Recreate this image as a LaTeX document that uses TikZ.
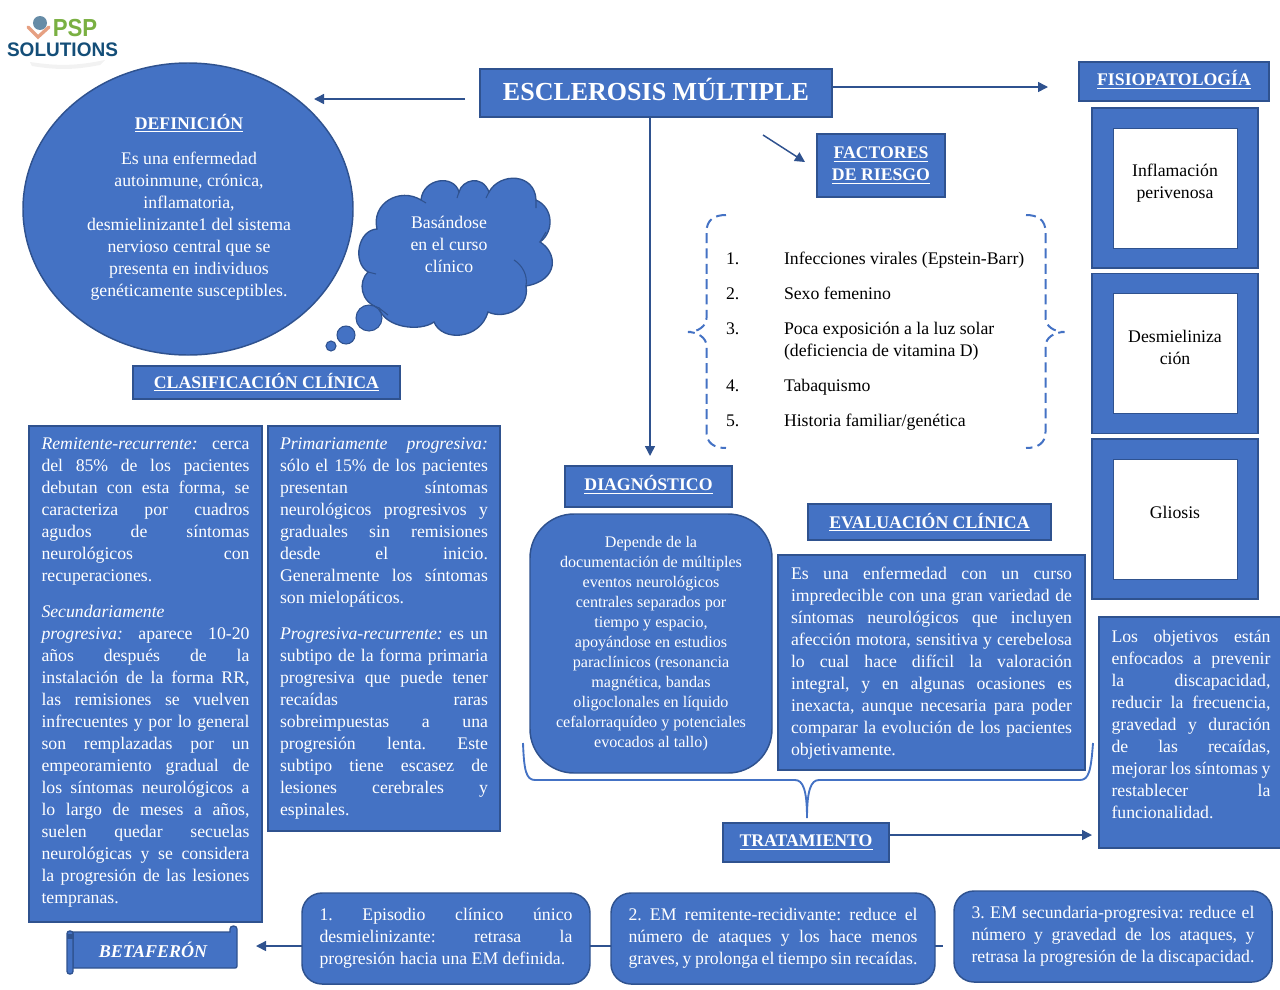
\documentclass[tikz,border=0pt]{standalone}
\usepackage{fontspec}
\usepackage{graphicx}
\usepackage{xcolor}
\usepackage{tikz}
\usetikzlibrary{arrows.meta, shapes.geometric, positioning, calc}
\setmainfont{Liberation Serif}
\newfontfamily\logofont{Liberation Sans}
\definecolor{cajaazul}{RGB}{68,114,196}
\definecolor{bordeazul}{RGB}{47,82,143}
\definecolor{logoverde}{RGB}{122,176,66}
\definecolor{logoazul}{RGB}{20,78,120}
\definecolor{logomano}{RGB}{230,160,130}
\newdimen\px
\px=0.75pt
\newcommand{\corte}{\linebreak}
\tolerance=9999
\hbadness=10000
\hfuzz=3pt
\hyphenpenalty=10000
\exhyphenpenalty=10000
\frenchspacing

\begin{document}
\begin{tikzpicture}[
        x=0.75pt, y=-0.75pt,
        base/.style={inner sep=0pt, outer sep=0pt, text=white, font=\fontsize{13.3}{16.5}\selectfont},
        caja/.style={base, rectangle, fill=cajaazul, draw=bordeazul, line width=1.1pt, align=justify},
        titulo/.style={caja, align=center, font=\fontsize{13.3}{16.5}\selectfont\bfseries},
        redonda/.style={caja, rounded corners=15pt},
        marco/.style={caja, minimum width=166\px, minimum height=160\px},
        celda/.style={base, rectangle, fill=white, draw=bordeazul, line width=0.6pt, text=black, align=center, text width=112\px, minimum width=124\px, minimum height=120\px},
        lista/.style={base, text=black, anchor=west, text height=12pt, text depth=3pt},
        flecha/.style={-{Triangle[length=7.5pt,width=7.5pt]}, line width=1.1pt, draw=bordeazul},
        linea/.style={line width=1.4pt, draw=cajaazul},
        llave/.style={draw=cajaazul, line width=1.5pt, dash pattern=on 7.5pt off 4pt}
    ]
        \useasboundingbox (0,0) rectangle (1280,989);

        % Logo
        \fill[gray!10] (30,62) to[bend right=10] (105,60) -- (100,65) to[bend left=10] (32,66) -- cycle;
        \draw[logomano, line width=2.5pt, line cap=round] (28,27) -- (38,37) -- (49,27);
        \node[circle, fill=logoazul!65!white, minimum size=14\px, inner sep=0pt] (globo) at (40,23) {};
        \node[base, text=logoverde, font=\logofont\fontsize{18.5}{19}\selectfont\bfseries] (psp) at (75,28) {\scalebox{0.9}[1]{PSP}};
        \node[base, text=logoazul, font=\logofont\fontsize{14.7}{15}\selectfont\bfseries] (solutions) at (62.5,49.5) {\scalebox{0.97}[1]{SOLUTIONS}};

        % Titulo y definicion
        \node[caja, minimum width=352\px, minimum height=48\px, font=\fontsize{19.5}{24}\selectfont\bfseries] (title) at (656,93) {ESCLEROSIS MÚLTIPLE\rule[-6pt]{0pt}{6pt}};
        \node[ellipse, fill=cajaazul, draw=bordeazul, line width=1.1pt, inner sep=0pt, minimum width=330\px, minimum height=292\px] (defi) at (188,209) {};
        \node[base, align=center] (defitexto) at (189,207.5) {\textbf{\underline{DEFINICIÓN}}\\[10pt]
            Es una enfermedad\\autoinmune, crónica,\\inflamatoria,\\desmielinizante1 del sistema\\nervioso central que se\\presenta en individuos\\genéticamente susceptibles.};

        % Nube
        \draw[fill=cajaazul, draw=bordeazul, line width=1pt] (377,229)
            .. controls (371,203) and (400,187) .. (421,200)
            .. controls (423,178) and (454,174) .. (459,192)
            .. controls (462,180) and (482,174) .. (489,192)
            .. controls (500,172) and (535,173) .. (536,200)
            .. controls (554,208) and (554,232) .. (540,242)
            .. controls (557,252) and (560,280) .. (526,286)
            .. controls (530,308) and (505,320) .. (488,312)
            .. controls (480,340) and (442,342) .. (434,322)
            .. controls (420,332) and (385,328) .. (379,308)
            .. controls (360,302) and (358,282) .. (368,272)
            .. controls (352,262) and (358,230) .. (377,229) -- cycle;
        \draw[bordeazul, line width=0.8pt] (421,200) -- (426,203) (459,192) -- (457,198) (489,192) -- (486,198)
            (536,200) -- (536,208) (540,242) -- (546,232) (526,286) .. controls (528,275) and (522,265) .. (514,260)
            (368,272) -- (376,274) (379,308) -- (388,315);
        \node[circle, fill=cajaazul, draw=bordeazul, line width=0.8pt, minimum size=26\px, inner sep=0pt] (burbujaA) at (369,318) {};
        \node[circle, fill=cajaazul, draw=bordeazul, line width=0.8pt, minimum size=18\px, inner sep=0pt] (burbujaB) at (346,335) {};
        \node[circle, fill=cajaazul, draw=bordeazul, line width=0.8pt, minimum size=10\px, inner sep=0pt] (burbujaC) at (331,346) {};
        \node[base, align=center] (nubetexto) at (449,244.5) {Basándose\\en el curso\\clínico};

        % Clasificacion
        \node[titulo, minimum width=267\px, minimum height=33\px] (clasif) at (266.5,382.5) {\underline{CLASIFICACIÓN CLÍNICA}};
        \node[caja, text width=208\px, minimum width=233\px, minimum height=496\px] (remite) at (145.5,674) {%
            \textit{Remitente-recurrente:} cerca\corte del 85\% de los pacientes\corte debutan con esta forma, se\corte caracteriza por cuadros\corte agudos de síntomas\corte neurológicos con\corte recuperaciones.\par\vspace{10.5pt}
            \textit{Secundariamente}\\
            \textit{progresiva:} aparece 10-20\corte años después de la\corte instalación de la forma RR,\corte las remisiones se vuelven\corte infrecuentes y por lo general\corte son remplazadas por un\corte empeoramiento gradual de\corte los síntomas neurológicos a\corte lo largo de meses a años,\corte suelen quedar secuelas\corte neurológicas y se considera\corte la progresión de las lesiones\corte tempranas.\par\vspace{1.5pt}};
        \node[caja, text width=208\px, minimum width=232\px, minimum height=405\px] (primaria) at (384,628.5) {%
            \textit{Primariamente progresiva:}\corte sólo el 15\% de los pacientes\corte presentan síntomas\corte neurológicos progresivos y\corte graduales sin remisiones\corte desde el inicio.\corte Generalmente los síntomas\corte son mielopáticos.\par\vspace{10.5pt}
            \textit{Progresiva-recurrente:} es un\corte subtipo de la forma primaria\corte progresiva que puede tener\corte recaídas raras\corte sobreimpuestas a una\corte progresión lenta. Este\corte subtipo tiene escasez de\corte lesiones cerebrales y\corte espinales.\par\vspace{-0.5pt}};

        % Diagnostico
        \node[titulo, minimum width=167\px, minimum height=41\px] (diag) at (648.5,486.5) {\underline{DIAGNÓSTICO}\rule[-5pt]{0pt}{5pt}};
        \node[caja, rounded corners=33pt, minimum width=242\px, minimum height=259\px, align=center, font=\fontsize{12.1}{15.05}\selectfont] (diagtexto) at (651,643.5) {%
            Depende de la\\documentación de múltiples\\eventos neurológicos\\centrales separados por\\tiempo y espacio,\\apoyándose en estudios\\paraclínicos (resonancia\\magnética, bandas\\oligoclonales en líquido\\cefalorraquídeo y potenciales\\evocados al tallo)\rule[-1pt]{0pt}{1pt}};

        % Evaluacion clinica
        \node[titulo, minimum width=243\px, minimum height=36\px] (evalua) at (929.5,522) {\underline{EVALUACIÓN CLÍNICA}};
        \node[caja, text width=281\px, minimum width=307\px, minimum height=215\px] (evaltexto) at (931.5,662.5) {%
            Es una enfermedad con un curso\corte impredecible con una gran variedad de\corte síntomas neurológicos que incluyen\corte afección motora, sensitiva y cerebelosa\corte lo cual hace difícil la valoración\corte integral, y en algunas ocasiones es\corte inexacta, aunque necesaria para poder\corte comparar la evolución de los pacientes\corte objetivamente.\par\vspace{-1.5pt}};

        % Factores de riesgo
        \node[titulo, minimum width=128\px, minimum height=63\px] (factores) at (881,165.5) {\underline{FACTORES}\\\underline{DE RIESGO}};
        \coordinate (factorA) at (763,135);
        \coordinate (factorB) at (805,162);
        \draw[llave] (726,215) .. controls (714,215) and (706.5,220) .. (706.5,232) -- (706.5,318)
            .. controls (706.5,326) and (698,332) .. (688,332)
            .. controls (698,332) and (706.5,338) .. (706.5,346) -- (706.5,432)
            .. controls (706.5,443) and (714,448) .. (726,448);
        \draw[llave] (1026,215) .. controls (1038,215) and (1045.5,220) .. (1045.5,232) -- (1045.5,318)
            .. controls (1045.5,326) and (1054,332) .. (1064.5,332)
            .. controls (1054,332) and (1045.5,338) .. (1045.5,346) -- (1045.5,432)
            .. controls (1045.5,443) and (1038,448) .. (1026,448);
        \node[lista] (numA) at (726,258) {1.};
        \node[lista] (numB) at (726,293) {2.};
        \node[lista] (numC) at (726,328) {3.};
        \node[lista] (numD) at (726,385) {4.};
        \node[lista] (numE) at (726,420) {5.};
        \node[lista] (riesgoA) at (784,258) {Infecciones virales (Epstein-Barr)};
        \node[lista] (riesgoB) at (784,293) {Sexo femenino};
        \node[lista] (riesgoC) at (784,328) {Poca exposición a la luz solar};
        \node[lista] (riesgoF) at (784,350) {(deficiencia de vitamina D)};
        \node[lista] (riesgoD) at (784,385) {Tabaquismo};
        \node[lista] (riesgoE) at (784,420) {Historia familiar/genética};

        % Fisiopatologia
        \node[titulo, minimum width=190\px, minimum height=39\px] (fisio) at (1174,81.5) {\underline{FISIOPATOLOGÍA}\rule[-5pt]{0pt}{5pt}};
        \node[marco] (marcoA) at (1175,188) {};
        \node[marco] (marcoB) at (1175,353.5) {};
        \node[marco] (marcoC) at (1175,519) {};
        \node[celda] (celdaA) at (marcoA.center) {Inflamación\\perivenosa\rule[-10pt]{0pt}{10pt}};
        \node[celda] (celdaB) at (marcoB.center) {Desmieliniza\\ción\rule[-9pt]{0pt}{9pt}};
        \node[celda] (celdaC) at (marcoC.center) {Gliosis\rule[-10.5pt]{0pt}{10.5pt}};

        % Objetivos y tratamiento
        \node[caja, text width=159\px, minimum width=184\px, minimum height=231\px, anchor=north west] (objetivos) at (1099,617) {%
            Los objetivos están\corte enfocados a prevenir\corte la discapacidad,\corte reducir la frecuencia,\corte gravedad y duración\corte de las recaídas,\corte mejorar los síntomas y\corte restablecer la\corte funcionalidad.\par\vspace{12.5pt}};
        \node[titulo, minimum width=166\px, minimum height=39\px] (trata) at (806,842.5) {\underline{TRATAMIENTO}};
        \coordinate (llaveTrata) at (807,818);
        \draw[linea] (523,743) .. controls (524,770) and (526,780) .. (535,780) -- (795,780)
            .. controls (803,780) and (807,790) .. (llaveTrata)
            .. controls (807,790) and (811,780) .. (819,780) -- (1080,780)
            .. controls (1089,780) and (1091,770) .. (1093,743);

        % Evolucion
        \node[redonda, text width=253\px, minimum width=288\px, minimum height=91\px] (evoUno) at (446,938.5) {%
            1. Episodio clínico único\corte desmielinizante: retrasa la\corte progresión hacia una EM definida.};
        \node[redonda, text width=289\px, minimum width=324\px, minimum height=91\px] (evoDos) at (773,938.5) {%
            2. EM remitente-recidivante: reduce el\corte número de ataques y los hace menos\corte graves, y prolonga el tiempo sin recaídas.};
        \node[redonda, text width=283\px, minimum width=318\px, minimum height=91\px] (evoTres) at (1113,936.5) {%
            3. EM secundaria-progresiva: reduce el\corte número y gravedad de los ataques, y\corte retrasa la progresión de la discapacidad.};

        % Betaferon
        \draw[fill=cajaazul, draw=bordeazul, line width=1pt] (73,932) -- (230,932) -- (230,929)
            .. controls (230,925) and (237,925) .. (237,929) -- (237,966)
            .. controls (237,967.5) and (236,968) .. (235,968) -- (73,968) -- cycle;
        \draw[fill=cajaazul, draw=bordeazul, line width=1pt, rounded corners=2pt] (67,931) rectangle (73,974);
        \draw[bordeazul, fill=bordeazul] (67,934) -- (73,934) -- (73,938) -- (67,938) -- cycle;
        \node[base, font=\fontsize{13.5}{16}\selectfont\bfseries\itshape] (beta) at (153,950) {BETAFERÓN};

        % Conectores
        \coordinate (defiPunta) at (314,99);
        \coordinate (defiCola) at (465,99);
        \coordinate (fisioPunta) at (1048,87);
        \coordinate (diagPunta) at (650,456);
        \coordinate (objPunta) at (1092,835);
        \coordinate (betaPunta) at (256,946);
        \coordinate (dosCola) at (943,946);
        \draw[flecha] (defiCola) -- (defiPunta);
        \draw[flecha] (title.east |- fisioPunta) -- (fisioPunta);
        \draw[flecha] (title.south -| diagPunta) -- (diagPunta);
        \draw[flecha] (factorA) -- (factorB);
        \draw[flecha] (trata.east |- objPunta) -- (objPunta);
        \draw[flecha] (evoUno.west |- betaPunta) -- (betaPunta);
        \draw[linea, draw=bordeazul, line width=1.1pt] (evoUno.east |- betaPunta) -- (evoDos.west |- betaPunta);
        \draw[linea, draw=bordeazul, line width=1.1pt] (evoDos.east |- dosCola) -- (dosCola);
    \end{tikzpicture}
\end{document}
